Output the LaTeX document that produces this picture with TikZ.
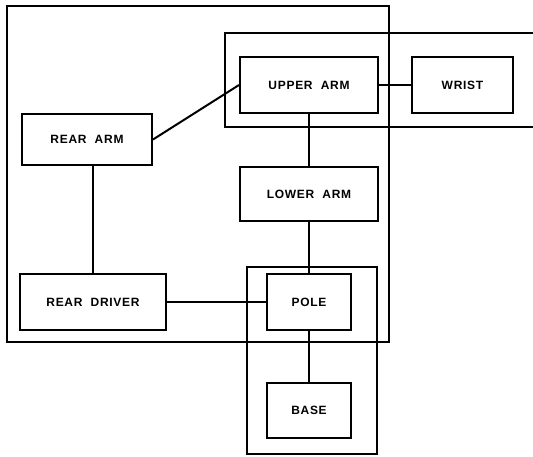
\documentclass[tikz,border=0pt]{standalone}
\usepackage{fontspec}
\newfontfamily\partfont[LetterSpace=6]{Liberation Sans}
\usepackage{tikz}

\begin{document}
\begin{tikzpicture}[x=1pt, y=-1pt, line width=2pt,
    every node/.style={font=\partfont\bfseries\fontsize{12}{14}\selectfont},
    part/.style={draw, rectangle, inner sep=0pt, minimum height=56}]
  \useasboundingbox (0,0) rectangle (533,456);
  % outer groups
  \draw (7,6) rectangle (389,342);
  \draw (534,33) -- (225,33) -- (225,127) -- (534,127);
  \draw (247,267) rectangle (377,454);
  % parts
  \node[part, minimum width=138] (upper) at (309,85) {UPPER\ \ ARM};
  \node[part, minimum width=101] (wrist) at (462.5,85) {WRIST};
  \node[part, minimum width=130, minimum height=51] (reararm) at (87,139.5) {REAR\ \ ARM};
  \node[part, minimum width=138, minimum height=54] (lowerarm) at (309,194) {LOWER\ \ ARM};
  \node[part, minimum width=146] (reardrv) at (93,302) {REAR\ \ DRIVER};
  \node[part, minimum width=84] (pole) at (309,302) {POLE};
  \node[part, minimum width=84, minimum height=55] (base) at (309,410.5) {BASE};
  % links
  \draw (reararm.east) -- (upper.west);
  \draw (upper.east) -- (wrist.west);
  \draw (upper.south) -- (lowerarm.north);
  \draw (lowerarm.south) -- (pole.north);
  \draw (pole.south) -- (base.north);
  \draw (reardrv.north) -- (reardrv.north |- reararm.south);
  \draw (reardrv.east) -- (pole.west);
\end{tikzpicture}
\end{document}
